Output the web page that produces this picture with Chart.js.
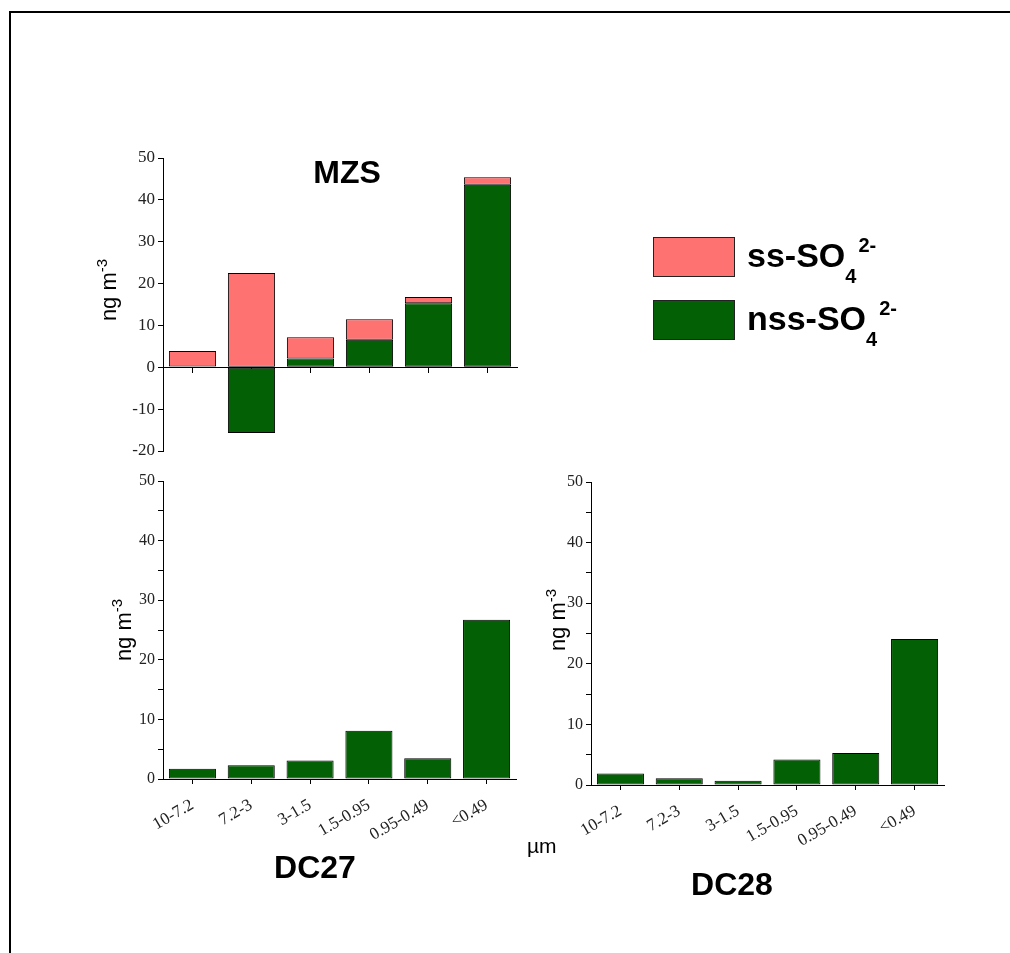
<!DOCTYPE html>
<html>
<head>
<meta charset="utf-8">
<title>Sulfate size distribution</title>
<script src="https://cdn.jsdelivr.net/npm/chart.js@4.4.1/dist/chart.umd.min.js"></script>
<style>
  html, body { margin: 0; padding: 0; background: #fff; }
  body { width: 1010px; height: 953px; position: relative; overflow: hidden; }
  .frame { position: absolute; left: 9px; top: 11px; width: 1010px; height: 960px;
           border-top: 2px solid #000; border-left: 2px solid #000; }
  canvas { position: absolute; left: 0; top: 0; }
  #legend { position: absolute; left: 653px; top: 237px;
            font: bold 34px "Liberation Sans", Arial, sans-serif; color: #000; }
  .row { display: flex; align-items: center; height: 40px; margin-bottom: 23px; }
  .sw { width: 80px; height: 38px; border: 1px solid #222; margin-right: 12px; }
  .lbl { position: relative; top: -2px; line-height: 40px; white-space: nowrap; }
  sub, sup { font-size: 20px; line-height: 0; position: relative; vertical-align: baseline; }
  sub { top: 16px; }
  sup { top: -15px; margin-left: 2px; }
</style>
</head>
<body>
<div class="frame"></div>
<canvas id="mzs" width="1010" height="953"></canvas>
<canvas id="dc27" width="1010" height="953"></canvas>
<canvas id="dc28" width="1010" height="953"></canvas>
<div id="legend"></div>

<script>
// size bins (µm)
const sizeBins = ['10-7.2', '7.2-3', '3-1.5', '1.5-0.95', '0.95-0.49', '<0.49'];

// MZS: sea-salt and non-sea-salt sulfate, ng m-3
const mzsNss = [0.2, -15.7, 2.1, 6.6, 15.3, 43.6];
const mzsSs = [3.7, 22.5, 5.1, 4.9, 1.5, 1.8];

// DC27 / DC28: nss sulfate only
const dc27Nss = [1.7, 2.3, 3.1, 8.1, 3.5, 26.7];
const dc28Nss = [1.9, 1.1, 0.7, 4.2, 5.3, 24.1];

const SS_COLOR = '#FF7272';
const NSS_COLOR = '#046004';
const SANS = '"Liberation Sans", Arial, sans-serif';
const SERIF = '"Liberation Serif", "Times New Roman", serif';

// draws titles / axis labels with super- and subscripts
const panelText = {
    id: 'panelText',
    afterDraw(chart, args, opts) {
        const ctx = chart.ctx;
        (opts.items || []).forEach(it => {
            ctx.save();
            ctx.translate(it.x, it.y);
            if (it.rotate) ctx.rotate(it.rotate);
            let total = 0;
            it.parts.forEach(p => {
                ctx.font = p.font;
                p.w = ctx.measureText(p.text).width;
                total += p.w;
            });
            let x = it.align === 'center' ? -total / 2 : 0;
            ctx.fillStyle = '#000';
            ctx.textBaseline = 'alphabetic';
            it.parts.forEach(p => {
                ctx.font = p.font;
                ctx.fillText(p.text, x, p.dy || 0);
                x += p.w;
            });
            ctx.restore();
        });
    }
};

function yTitle(x, y) {
    return {
        x, y, rotate: -Math.PI / 2, align: 'center',
        parts: [
            { text: 'ng m', font: '22px ' + SANS },
            { text: '-3', font: '15px ' + SANS, dy: -9 }
        ]
    };
}

function bigTitle(text, x, y) {
    return { x, y, align: 'center', parts: [{ text, font: 'bold 32px ' + SANS }] };
}

function buildChart(id, cfg) {
    return new Chart(document.getElementById(id), {
        type: 'bar',
        data: { labels: sizeBins, datasets: cfg.datasets },
        options: {
            responsive: false,
            animation: false,
            devicePixelRatio: 1,
            layout: { padding: cfg.padding },
            datasets: {
                bar: {
                    categoryPercentage: 1,
                    barPercentage: 0.8,
                    borderWidth: 1,
                    borderColor: '#000',
                    borderSkipped: false
                }
            },
            plugins: {
                legend: { display: false },
                tooltip: { enabled: false },
                panelText: { items: cfg.texts }
            },
            scales: {
                x: {
                    stacked: true,
                    position: cfg.xAtZero ? { y: 0 } : 'bottom',
                    afterFit: cfg.xAtZero ? undefined : s => { s.height = 80; },
                    border: { display: true, color: '#000', width: 1 },
                    grid: { offset: false, drawOnChartArea: false, tickLength: 5, color: '#000' },
                    ticks: {
                        display: !cfg.xAtZero,
                        minRotation: 30,
                        maxRotation: 30,
                        padding: 11,
                        color: '#222',
                        font: { family: SERIF, size: 17 }
                    }
                },
                y: {
                    stacked: true,
                    min: cfg.yMin,
                    max: 50,
                    afterFit: s => { s.width = 40; },
                    border: { display: true, color: '#000', width: 1 },
                    grid: { drawOnChartArea: false, tickLength: 5, color: '#000' },
                    ticks: {
                        stepSize: 5,
                        padding: 3,
                        color: '#222',
                        font: { family: SERIF, size: cfg.tickSize },
                        callback: v => (v % 10 === 0 ? v : '')
                    }
                }
            }
        },
        plugins: [panelText]
    });
}

// --- MZS (stacked, axis through zero) ---
buildChart('mzs', {
    datasets: [
        { label: 'nss-SO4 2-', data: mzsNss, backgroundColor: NSS_COLOR },
        { label: 'ss-SO4 2-', data: mzsSs, backgroundColor: SS_COLOR }
    ],
    yMin: -20,
    xAtZero: true,
    tickSize: 17,
    padding: { left: 123, right: 493, top: 158, bottom: 502 },
    texts: [yTitle(116, 290), bigTitle('MZS', 347, 183)]
});

// --- DC27 ---
buildChart('dc27', {
    datasets: [{ label: 'nss-SO4 2-', data: dc27Nss, backgroundColor: NSS_COLOR }],
    yMin: 0,
    tickSize: 16,
    padding: { left: 123, right: 494, top: 481, bottom: 94 },
    texts: [yTitle(131, 630), bigTitle('DC27', 315, 878)]
});

// --- DC28 ---
buildChart('dc28', {
    datasets: [{ label: 'nss-SO4 2-', data: dc28Nss, backgroundColor: NSS_COLOR }],
    yMin: 0,
    tickSize: 16,
    padding: { left: 551, right: 66, top: 482, bottom: 88 },
    texts: [
        yTitle(565, 620),
        bigTitle('DC28', 732, 895),
        { x: 527, y: 853, parts: [{ text: 'µm', font: '21px ' + SANS }] }
    ]
});

// legend (HTML so the sub/superscripts stay as text)
const legendRows = [
    { html: 'ss-SO<sub>4</sub><sup>2-</sup>', color: SS_COLOR },
    { html: 'nss-SO<sub>4</sub><sup>2-</sup>', color: NSS_COLOR }
];
document.getElementById('legend').innerHTML = legendRows.map(r => `
    <div class="row">
        <div class="sw" style="background:${r.color}"></div>
        <span class="lbl">${r.html}</span>
    </div>
`).join('');
</script>
</body>
</html>
